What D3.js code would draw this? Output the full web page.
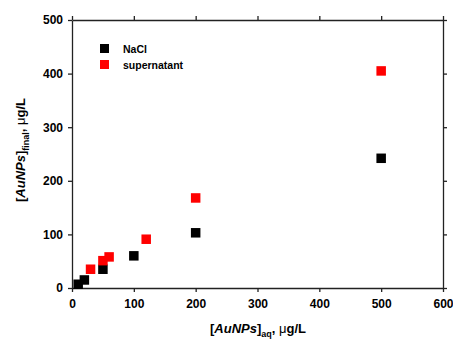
<!DOCTYPE html>
<html lang="en">
<head>
    <meta charset="UTF-8">
    <title>AuNPs final vs aq</title>
    <script src="https://d3js.org/d3.v7.min.js"></script>
    <style>
        body { margin: 0; background: #fff; }
        svg { display: block; }
        text { font-family: "Liberation Sans", Arial, sans-serif; font-weight: bold; fill: #000; }
        .axis path, .axis line { stroke: #222; stroke-width: 1.3px; }
        .axis text { font-size: 12px; }
    </style>
</head>
<body>
    <svg width="453" height="342"></svg>
    <script>
        // data
        const naclX = [10, 20, 50, 100, 200, 500];
        const naclY = [7, 15, 35, 60, 103, 242];
        const superX = [30, 50, 60, 120, 200, 500];
        const superY = [35, 51, 58, 91, 168, 405];
        const xTicks = [0, 100, 200, 300, 400, 500, 600];
        const yTicks = [0, 100, 200, 300, 400, 500];

        const series = [
            { name: "NaCl", color: "#000", xs: naclX, ys: naclY },
            { name: "supernatant", color: "#ff0000", xs: superX, ys: superY }
        ];

        const svg = d3.select("svg");
        const m = { left: 72, right: 443, top: 20, bottom: 288 };

        const x = d3.scaleLinear().domain([0, 600]).range([m.left, m.right]);
        const y = d3.scaleLinear().domain([0, 500]).range([m.bottom, m.top]);

        // axes, ticks pointing outward on all four sides
        svg.append("g").attr("class", "axis")
            .attr("transform", `translate(0,${m.bottom})`)
            .call(d3.axisBottom(x).tickValues(xTicks).tickSize(4).tickPadding(7).tickSizeOuter(0));
        svg.append("g").attr("class", "axis")
            .attr("transform", `translate(${m.left},0)`)
            .call(d3.axisLeft(y).tickValues(yTicks).tickSize(4).tickPadding(5).tickSizeOuter(0));
        svg.append("g").attr("class", "axis")
            .attr("transform", `translate(0,${m.top})`)
            .call(d3.axisTop(x).tickValues(xTicks).tickSize(4).tickFormat("").tickSizeOuter(0));
        svg.append("g").attr("class", "axis")
            .attr("transform", `translate(${m.right},0)`)
            .call(d3.axisRight(y).tickValues(yTicks).tickSize(4).tickFormat("").tickSizeOuter(0));

        // markers
        const s = 9.5;
        series.forEach(sr => {
            svg.append("g").selectAll("rect")
                .data(sr.xs.map((v, i) => [v, sr.ys[i]]))
                .enter().append("rect")
                .attr("x", d => x(d[0]) - s / 2)
                .attr("y", d => y(d[1]) - s / 2)
                .attr("width", s)
                .attr("height", s)
                .attr("fill", sr.color);
        });

        // legend
        const lg = svg.append("g").attr("transform", "translate(100,44)");
        series.forEach((sr, i) => {
            lg.append("rect").attr("x", 0).attr("y", i * 16).attr("width", 9).attr("height", 9).attr("fill", sr.color);
            lg.append("text").attr("x", 23).attr("y", i * 16 + 8.5).style("font-size", "10.5px").text(sr.name);
        });

        // axis titles
        const xt = svg.append("text").attr("x", 258).attr("y", 333)
            .attr("text-anchor", "middle").style("font-size", "13px");
        xt.append("tspan").text("[");
        xt.append("tspan").style("font-style", "italic").text("AuNPs");
        xt.append("tspan").text("]");
        xt.append("tspan").attr("dy", 4).style("font-size", "9px").text("aq");
        xt.append("tspan").attr("dy", -4).text(", ");
        xt.append("tspan").style("font-weight", "normal").text("\u03bc");
        xt.append("tspan").text("g/L");

        const yt = svg.append("text").attr("transform", "translate(25,150) rotate(-90)")
            .attr("text-anchor", "middle").style("font-size", "13px");
        yt.append("tspan").text("[");
        yt.append("tspan").style("font-style", "italic").text("AuNPs");
        yt.append("tspan").text("]");
        yt.append("tspan").attr("dy", 4).style("font-size", "9px").text("final");
        yt.append("tspan").attr("dy", -4).text(", ");
        yt.append("tspan").style("font-weight", "normal").text("\u03bc");
        yt.append("tspan").text("g/L");
    </script>
</body>
</html>
